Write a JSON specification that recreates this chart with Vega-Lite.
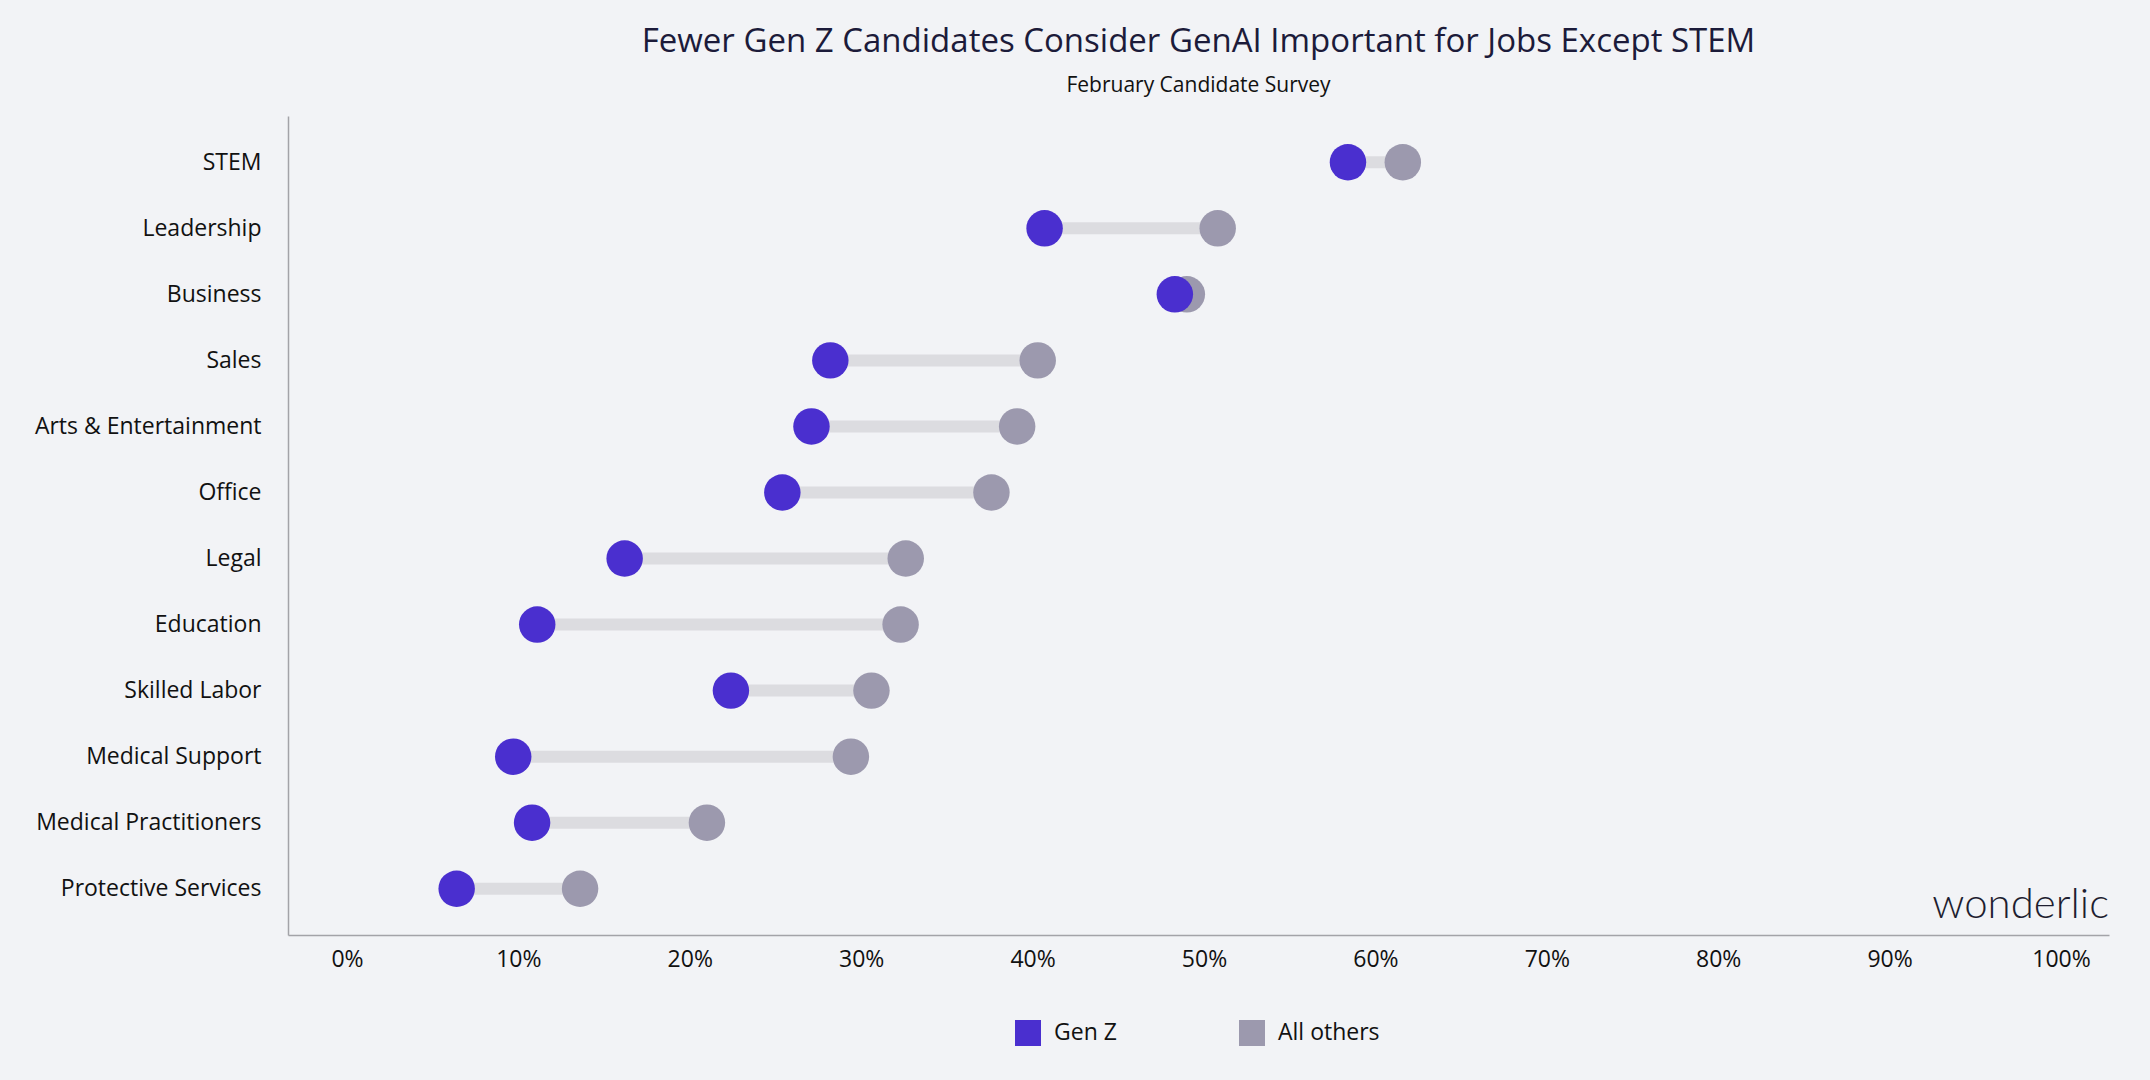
{
  "$schema": "https://vega.github.io/schema/vega-lite/v6.json",
  "width": 1821,
  "height": 819,
  "padding": {"left": 33, "top": 26, "right": 41, "bottom": 40},
  "background": "#f2f3f6",
  "title": {
    "text": "Fewer Gen Z Candidates Consider GenAI Important for Jobs Except STEM",
    "subtitle": "February Candidate Survey",
    "anchor": "middle",
    "font": "Open Sans",
    "fontSize": 33,
    "fontWeight": "normal",
    "color": "#1c1b3a",
    "subtitleFont": "Open Sans",
    "subtitleFontSize": 21,
    "subtitleColor": "#111111",
    "subtitlePadding": 16,
    "offset": 20
  },
  "config": {
    "view": {"stroke": null},
    "font": "Open Sans",
    "axis": {
      "labelFont": "Open Sans",
      "labelFontSize": 23,
      "labelColor": "#111111",
      "labelLimit": 0,
      "domainColor": "#a3a3a8",
      "domainWidth": 1.5,
      "ticks": false,
      "grid": false,
      "title": null
    },
    "legend": {
      "labelFont": "Open Sans",
      "labelFontSize": 23,
      "labelColor": "#111111"
    }
  },
  "data": {
    "values": [
      {"job": "STEM", "group": "All others", "value": 0.616},
      {"job": "Leadership", "group": "All others", "value": 0.508},
      {"job": "Business", "group": "All others", "value": 0.490},
      {"job": "Sales", "group": "All others", "value": 0.403},
      {"job": "Arts & Entertainment", "group": "All others", "value": 0.391},
      {"job": "Office", "group": "All others", "value": 0.376},
      {"job": "Legal", "group": "All others", "value": 0.326},
      {"job": "Education", "group": "All others", "value": 0.323},
      {"job": "Skilled Labor", "group": "All others", "value": 0.306},
      {"job": "Medical Support", "group": "All others", "value": 0.294},
      {"job": "Medical Practitioners", "group": "All others", "value": 0.210},
      {"job": "Protective Services", "group": "All others", "value": 0.136},
      {"job": "STEM", "group": "Gen Z", "value": 0.584},
      {"job": "Leadership", "group": "Gen Z", "value": 0.407},
      {"job": "Business", "group": "Gen Z", "value": 0.483},
      {"job": "Sales", "group": "Gen Z", "value": 0.282},
      {"job": "Arts & Entertainment", "group": "Gen Z", "value": 0.271},
      {"job": "Office", "group": "Gen Z", "value": 0.254},
      {"job": "Legal", "group": "Gen Z", "value": 0.162},
      {"job": "Education", "group": "Gen Z", "value": 0.111},
      {"job": "Skilled Labor", "group": "Gen Z", "value": 0.224},
      {"job": "Medical Support", "group": "Gen Z", "value": 0.097},
      {"job": "Medical Practitioners", "group": "Gen Z", "value": 0.108},
      {"job": "Protective Services", "group": "Gen Z", "value": 0.064}
    ]
  },
  "encoding": {
    "y": {
      "field": "job",
      "type": "nominal",
      "sort": ["STEM", "Leadership", "Business", "Sales", "Arts & Entertainment", "Office", "Legal", "Education", "Skilled Labor", "Medical Support", "Medical Practitioners", "Protective Services"],
      "scale": {"type": "point", "padding": 0.7},
      "axis": {"labelPadding": 27, "minExtent": 255, "maxExtent": 255}
    }
  },
  "layer": [
    {
      "transform": [
        {"pivot": "group", "value": "value", "groupby": ["job"]}
      ],
      "mark": {"type": "rule", "strokeWidth": 12, "color": "#dcdce0"},
      "encoding": {
        "x": {"field": "Gen Z", "type": "quantitative"},
        "x2": {"field": "All others"}
      }
    },
    {
      "mark": {"type": "circle", "size": 1330, "opacity": 1},
      "encoding": {
        "x": {
          "field": "value",
          "type": "quantitative",
          "scale": {"domain": [-0.0344, 1.028], "nice": false, "zero": false},
          "axis": {
            "values": [0, 0.1, 0.2, 0.3, 0.4, 0.5, 0.6, 0.7, 0.8, 0.9, 1],
            "format": ".0%",
            "labelPadding": 13
          }
        },
        "color": {
          "field": "group",
          "type": "nominal",
          "scale": {"domain": ["Gen Z", "All others"], "range": ["#4a2fcf", "#9c99ae"]},
          "legend": {
            "title": null,
            "orient": "none",
            "direction": "horizontal",
            "legendX": 726,
            "legendY": 903,
            "symbolType": "square",
            "symbolSize": 676,
            "symbolOpacity": 1,
            "labelOffset": 12,
            "columnPadding": 121
          }
        }
      }
    },
    {
      "data": {"values": [{"job": "Protective Services", "brand": "wonderlic", "pos": 1.028}]},
      "mark": {"type": "text", "align": "right", "baseline": "middle", "dy": 16, "fontSize": 42, "font": "Lato", "fontWeight": 300, "color": "#1e1e30"},
      "encoding": {
        "x": {"field": "pos", "type": "quantitative"},
        "text": {"field": "brand"}
      }
    }
  ]
}
